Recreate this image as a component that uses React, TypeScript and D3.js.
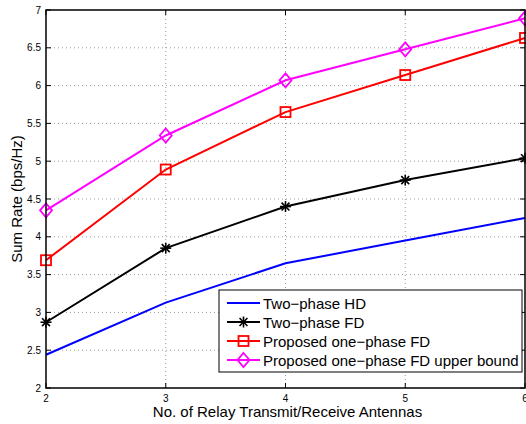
import React from 'react';
import * as d3 from 'd3';

const antennas = [2, 3, 4, 5, 6];
const hdRate = [2.44, 3.13, 3.65, 3.95, 4.25];
const fdRate = [2.87, 3.85, 4.4, 4.75, 5.04];
const proposedRate = [3.69, 4.89, 5.65, 6.14, 6.63];
const upperRate = [4.35, 5.34, 6.07, 6.48, 6.89];
const yTicks = [2, 2.5, 3, 3.5, 4, 4.5, 5, 5.5, 6, 6.5, 7];
const seriesNames = [
  'Two\u2212phase HD',
  'Two\u2212phase FD',
  'Proposed one\u2212phase FD',
  'Proposed one\u2212phase FD upper bound',
];

const W = 526;
const H = 424;
const margin = { top: 10, right: 1, bottom: 36, left: 46 };

const Marker = ({ type, x, y, color }: { type: string; x: number; y: number; color: string }) => {
  if (type === 'star') {
    const r = 5.5;
    return (
      <g stroke={color} strokeWidth={1.6}>
        <line x1={x - r} y1={y} x2={x + r} y2={y} />
        <line x1={x} y1={y - r} x2={x} y2={y + r} />
        <line x1={x - r * 0.72} y1={y - r * 0.72} x2={x + r * 0.72} y2={y + r * 0.72} />
        <line x1={x - r * 0.72} y1={y + r * 0.72} x2={x + r * 0.72} y2={y - r * 0.72} />
      </g>
    );
  }
  if (type === 'square') {
    return <rect x={x - 5} y={y - 5} width={10} height={10} fill="none" stroke={color} strokeWidth={1.8} />;
  }
  if (type === 'diamond') {
    return (
      <path d={`M${x},${y - 7}L${x + 6},${y}L${x},${y + 7}L${x - 6},${y}Z`} fill="none" stroke={color} strokeWidth={1.8} />
    );
  }
  return null;
};

export default function App() {
  const innerW = W - margin.left - margin.right;
  const innerH = H - margin.top - margin.bottom;
  const x = d3.scaleLinear().domain([2, 6]).range([margin.left, margin.left + innerW]);
  const y = d3.scaleLinear().domain([2, 7]).range([margin.top + innerH, margin.top]);

  const series = [
    { name: seriesNames[0], values: hdRate, color: '#0000ff', marker: 'none' },
    { name: seriesNames[1], values: fdRate, color: '#000000', marker: 'star' },
    { name: seriesNames[2], values: proposedRate, color: '#ff0000', marker: 'square' },
    { name: seriesNames[3], values: upperRate, color: '#ff00ff', marker: 'diamond' },
  ];

  const line = d3
    .line<number>()
    .x((_, i) => x(antennas[i]))
    .y((d) => y(d));

  const x0 = x(2);
  const x1 = x(6);
  const y0 = y(2);
  const y1 = y(7);
  const font = 'Liberation Sans, Arial, Helvetica, sans-serif';

  const legend = { left: 219, top: 290, right: 522, bottom: 372 };
  const rowY = [303, 322, 341, 360];

  return (
    <svg width={W} height={H} style={{ position: 'absolute', left: 0, top: 0, background: '#fff' }} fontFamily={font}>
      <rect x={0} y={0} width={W} height={H} fill="#fff" />
      {/* grid */}
      {antennas.slice(1, -1).map((t) => (
        <line key={'gx' + t} x1={x(t)} x2={x(t)} y1={y0} y2={y1} stroke="#999" strokeWidth={1} strokeDasharray="1,3" />
      ))}
      {yTicks.slice(1, -1).map((t) => (
        <line key={'gy' + t} x1={x0} x2={x1} y1={y(t)} y2={y(t)} stroke="#999" strokeWidth={1} strokeDasharray="1,3" />
      ))}
      {/* ticks */}
      {antennas.map((t) => (
        <g key={'tx' + t} stroke="#000">
          <line x1={x(t)} x2={x(t)} y1={y0} y2={y0 - 5} />
          <line x1={x(t)} x2={x(t)} y1={y1} y2={y1 + 5} />
        </g>
      ))}
      {yTicks.map((t) => (
        <g key={'ty' + t} stroke="#000">
          <line x1={x0} x2={x0 + 5} y1={y(t)} y2={y(t)} />
          <line x1={x1} x2={x1 - 5} y1={y(t)} y2={y(t)} />
        </g>
      ))}
      {/* series */}
      {series.map((s) => (
        <g key={s.name}>
          <path d={line(s.values) || ''} fill="none" stroke={s.color} strokeWidth={2} />
          {s.values.map((v, i) => (
            <Marker key={i} type={s.marker} x={x(antennas[i])} y={y(v)} color={s.color} />
          ))}
        </g>
      ))}
      {/* frame */}
      <rect x={x0} y={y1} width={x1 - x0} height={y0 - y1} fill="none" stroke="#000" strokeWidth={1.5} />
      {/* tick labels */}
      {antennas.map((t) => (
        <text key={'lx' + t} x={x(t)} y={y0 + 14} textAnchor="middle" fontSize={10}>
          {t}
        </text>
      ))}
      {yTicks.map((t) => (
        <text key={'ly' + t} x={x0 - 5} y={y(t) + 3.5} textAnchor="end" fontSize={10}>
          {t}
        </text>
      ))}
      {/* axis labels */}
      <text x={(x0 + x1) / 2 + 2} y={416.5} textAnchor="middle" fontSize={15}>
        No. of Relay Transmit/Receive Antennas
      </text>
      <text transform={`translate(21.5,${(y0 + y1) / 2}) rotate(-90)`} textAnchor="middle" fontSize={15}>
        Sum Rate (bps/Hz)
      </text>
      {/* legend */}
      <rect x={legend.left} y={legend.top} width={legend.right - legend.left} height={legend.bottom - legend.top} fill="#fff" stroke="#000" strokeWidth={1} />
      {series.map((s, i) => (
        <g key={'lg' + i}>
          <line x1={227} x2={260} y1={rowY[i]} y2={rowY[i]} stroke={s.color} strokeWidth={2} />
          <Marker type={s.marker} x={243.5} y={rowY[i]} color={s.color} />
          <text x={263} y={rowY[i] + 5.5} fontSize={15}>
            {s.name}
          </text>
        </g>
      ))}
    </svg>
  );
}
